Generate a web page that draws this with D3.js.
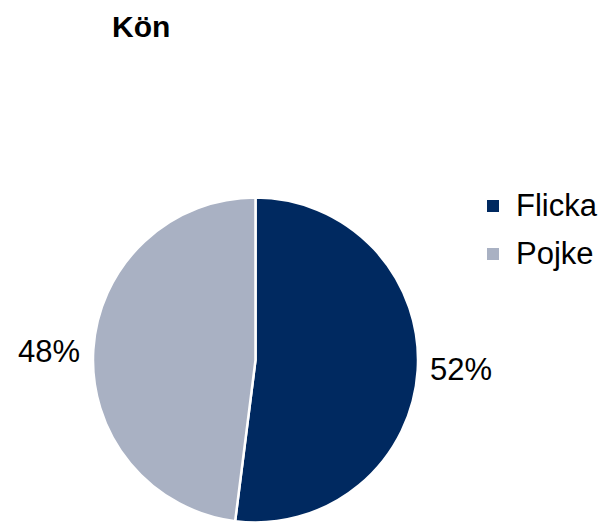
<!DOCTYPE html>
<html>
<head>
<meta charset="utf-8">
<script src="https://cdn.jsdelivr.net/npm/d3@7"></script>
<style>
  body { margin: 0; background: #fff; }
  text { font-family: "Liberation Sans", Arial, sans-serif; }
</style>
</head>
<body>
<svg id="container"></svg>
<script>
const width = 605;
const height = 522;

const categories = ["Flicka", "Pojke"];
const values = [52, 48];
const colors = ["#002960", "#A9B1C3"];

const cx = 255.5, cy = 360, radius = 162.5;

const svg = d3.select("#container")
    .attr("width", width)
    .attr("height", height)
    .attr("viewBox", [0, 0, width, height]);

svg.append("text")
    .attr("x", 112)
    .attr("y", 37)
    .attr("font-size", 30)
    .attr("font-weight", "bold")
    .text("Kön");

const data = categories.map((c, i) => ({name: c, value: values[i], color: colors[i]}));

const pie = d3.pie().sort(null).value(d => d.value);
const arc = d3.arc().innerRadius(0).outerRadius(radius);
const arcs = pie(data);

const g = svg.append("g")
    .attr("transform", `translate(${cx},${cy})`);

g.selectAll("path")
    .data(arcs)
    .join("path")
    .attr("d", arc)
    .attr("fill", d => d.data.color)
    .attr("stroke", "#fff")
    .attr("stroke-width", 2.5);

// percent labels outside the pie
const right = d => (d.startAngle + d.endAngle) / 2 < Math.PI;
g.selectAll("text.pct")
    .data(arcs)
    .join("text")
    .attr("class", "pct")
    .attr("font-size", 31)
    .attr("text-anchor", d => right(d) ? "start" : "end")
    .attr("x", d => right(d) ? radius + 12 : -(radius + 13))
    .attr("y", d => right(d) ? 20 : 2)
    .text(d => d.data.value + "%");

// legend
const legend = svg.append("g")
    .attr("transform", "translate(487,200)");

const item = legend.selectAll("g")
    .data(data)
    .join("g")
    .attr("transform", (d, i) => `translate(0,${i * 48})`);

item.append("rect")
    .attr("width", 12)
    .attr("height", 12)
    .attr("fill", d => d.color);

item.append("text")
    .attr("x", 29)
    .attr("y", 16)
    .attr("font-size", 31)
    .text(d => d.name);
</script>
</body>
</html>
